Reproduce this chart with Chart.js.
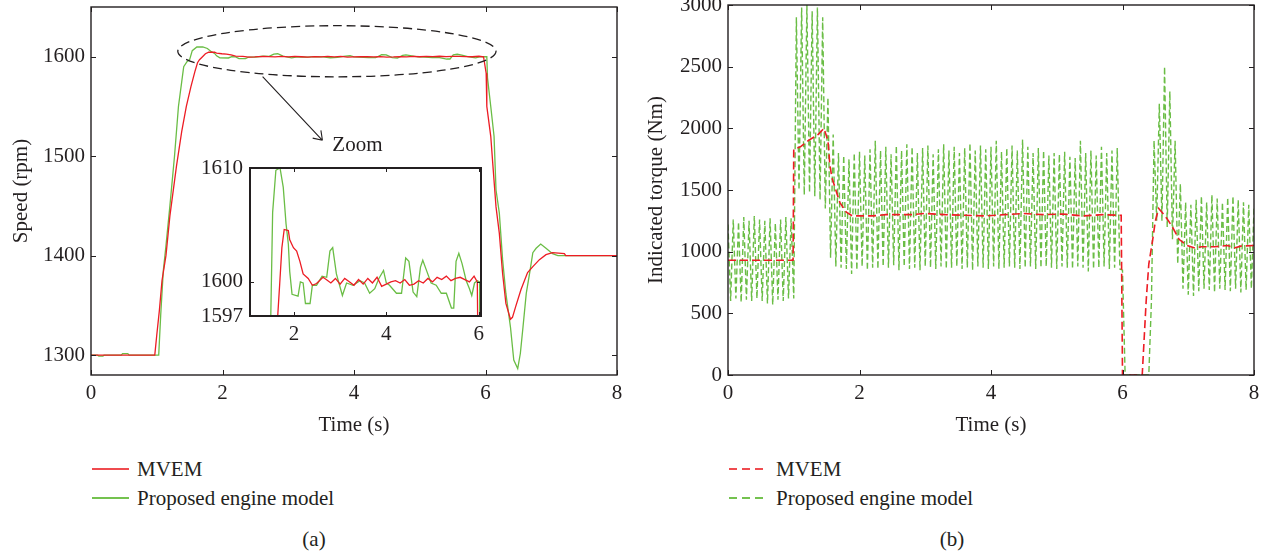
<!DOCTYPE html>
<html>
<head>
<meta charset="utf-8">
<script src="https://cdn.jsdelivr.net/npm/chart.js@4.4.0/dist/chart.umd.min.js"></script>
<style>
html,body{margin:0;padding:0;background:#fff;width:1267px;height:554px;overflow:hidden;}
body{position:relative;font-family:"Liberation Serif","Times New Roman",serif;color:#231f20;}
canvas{position:absolute;}
.lg{position:absolute;font-size:21px;line-height:24px;white-space:nowrap;}
.smp{position:absolute;height:2px;width:37px;}
.cap{position:absolute;font-size:21px;line-height:24px;transform:translateX(-50%);}
</style>
</head>
<body>
<canvas id="cL" width="640" height="440" style="left:0;top:0"></canvas>
<canvas id="cI" width="310" height="190" style="left:190px;top:158px"></canvas>
<canvas id="cR" width="627" height="440" style="left:640px;top:0"></canvas>

<div class="smp" style="left:92px;top:468px;background:#ef4b4f"></div>
<div class="lg" style="left:137px;top:457px">MVEM</div>
<div class="smp" style="left:92px;top:497px;background:#74c24f"></div>
<div class="lg" style="left:137px;top:486px">Proposed engine model</div>
<div class="cap" style="left:314px;top:527px">(a)</div>

<div class="smp" style="left:729px;top:468px;background:repeating-linear-gradient(to right,#ef4b4f 0 8px,transparent 8px 13px)"></div>
<div class="lg" style="left:776px;top:457px">MVEM</div>
<div class="smp" style="left:729px;top:497px;background:repeating-linear-gradient(to right,#74c24f 0 8px,transparent 8px 13px)"></div>
<div class="lg" style="left:776px;top:486px">Proposed engine model</div>
<div class="cap" style="left:952px;top:527px">(b)</div>

<script>
// ---------------- DATA ----------------
const timeTicks = [0, 2, 4, 6, 8];
const speedTicks = [1300, 1400, 1500, 1600];
const insetTimeTicks = [2, 4, 6];
const insetSpeedTicks = [1597, 1600, 1610];
const torqueTicks = [0, 500, 1000, 1500, 2000, 2500, 3000];

// (a) engine speed, MVEM
const mvemSpeedT = [0, 0.97, 1.0, 1.04, 1.08, 1.14, 1.2, 1.3, 1.38, 1.45,
  1.52, 1.58, 1.62, 1.65, 1.70, 1.74, 1.79, 1.88, 1.91, 1.99,
  2.06, 2.13, 2.20, 2.31, 2.40, 2.49, 2.63, 2.7, 2.8, 2.9,
  3.0, 3.1, 3.2, 3.3, 3.4, 3.5, 3.6, 3.7, 3.8, 3.9,
  4.0, 4.1, 4.2, 4.3, 4.4, 4.5, 4.6, 4.7, 4.8, 4.9,
  5.0, 5.1, 5.2, 5.3, 5.4, 5.5, 5.6, 5.7, 5.8, 5.9,
  5.97, 6.01, 6.02, 6.08, 6.11, 6.16, 6.21, 6.26, 6.31, 6.38,
  6.41, 6.46, 6.54, 6.64, 6.72, 6.82, 6.92, 7.02, 7.2, 7.22, 8.0];
const mvemSpeed = [1300, 1300, 1320, 1345, 1375, 1400, 1440, 1490, 1525, 1550,
  1570, 1585, 1594, 1597, 1600.3, 1603, 1604.6, 1604.5, 1603.7, 1603.0,
  1602.7, 1601.8, 1600.7, 1600.3, 1599.7, 1599.85, 1600.4, 1600.2, 1599.9, 1600.3,
  1599.8, 1600.3, 1600.0, 1599.7, 1600.2, 1599.8, 1600.3, 1599.9, 1600.4, 1599.6,
  1599.8, 1600.0, 1600.1, 1599.9, 1600.2, 1599.7, 1599.8, 1600.1, 1599.9, 1600.3,
  1600.0, 1600.4, 1600.2, 1600.5, 1600.1, 1600.3, 1600.4, 1600.2, 1600.0, 1600.5,
  1600, 1583.5, 1550, 1520, 1493, 1449, 1422.6, 1382, 1352, 1336,
  1338, 1349, 1366, 1383, 1389, 1396, 1401, 1403, 1402, 1400, 1400];

// (a) engine speed, proposed engine model
const propSpeedT = [0, 0.1, 0.12, 0.18, 0.2, 0.46, 0.48, 0.56, 0.58, 1.03,
  1.06, 1.1, 1.14, 1.2, 1.27, 1.33, 1.38, 1.41, 1.46, 1.50,
  1.54, 1.61, 1.70, 1.77, 1.83, 1.88, 1.91, 1.96, 2.09, 2.14,
  2.20, 2.25, 2.35, 2.40, 2.49, 2.61, 2.71, 2.78, 2.84, 2.92,
  3.05, 3.14, 3.28, 3.43, 3.53, 3.64, 3.75, 3.84, 3.94, 4.0,
  4.07, 4.22, 4.33, 4.42, 4.49, 4.58, 4.66, 4.74, 4.79, 4.88,
  4.97, 5.08, 5.19, 5.30, 5.41, 5.46, 5.51, 5.57, 5.64, 5.73,
  5.80, 5.85, 5.91, 5.97, 6.02, 6.03, 6.08, 6.13, 6.16, 6.21,
  6.26, 6.31, 6.38, 6.43, 6.49, 6.53, 6.57, 6.62, 6.67, 6.72,
  6.77, 6.84, 6.92, 7.02, 7.1, 8.0];
const propSpeed = [1300, 1300, 1299, 1299, 1300, 1300, 1301.5, 1301.5, 1300, 1300,
  1340, 1385, 1410, 1450, 1500, 1550, 1575, 1590, 1595, 1597,
  1606.1, 1609.8, 1610, 1608.3, 1605.1, 1603.3, 1600.9, 1598.9, 1598.75, 1600,
  1599.9, 1598.1, 1598.1, 1599.7, 1599.7, 1600.5, 1600.4, 1602.7, 1603, 1600.7,
  1598.8, 1599.9, 1599.7, 1600.1, 1599.9, 1599, 1599.4, 1600.3, 1601, 1599.9,
  1599.7, 1599, 1599, 1602.1, 1601.8, 1599.1, 1598.7, 1601.3, 1601.9, 1600.9,
  1599.9, 1599.7, 1599, 1599, 1597.7, 1597.7, 1601.8, 1602.5, 1601.6, 1600.1,
  1599.4, 1598.8, 1599.9, 1600.1, 1600, 1579, 1550, 1520, 1466, 1443,
  1396, 1362, 1328, 1295, 1286.5, 1301.6, 1328, 1362, 1382, 1403,
  1407.4, 1411.7, 1407.4, 1402, 1400, 1400];

// (b) indicated torque, MVEM
const mvemTorqueT = [0, 0.99, 1.0, 1.1, 1.22, 1.37, 1.46, 1.52, 1.55, 1.58,
  1.64, 1.70, 1.80, 1.89, 2.2, 2.4, 2.8, 3.0, 3.3, 3.6,
  3.9, 4.2, 4.5, 4.8, 5.1, 5.4, 5.7, 5.98, 6.0, 6.3,
  6.33, 6.36, 6.40, 6.46, 6.50, 6.55, 6.6, 6.7, 6.78, 6.86,
  6.98, 7.1, 7.2, 7.4, 7.6, 7.7, 7.8, 8.0];
const mvemTorque = [930, 930, 1830, 1850, 1900, 1950, 2000, 1900, 1700, 1600,
  1500, 1400, 1320, 1290, 1290, 1300, 1300, 1310, 1300, 1295,
  1290, 1300, 1310, 1300, 1305, 1290, 1300, 1295, 0, 0,
  300, 600, 900, 1100, 1250, 1350, 1320, 1250, 1180, 1100,
  1050, 1030, 1040, 1040, 1050, 1030, 1045, 1050];

// (b) indicated torque, proposed engine model (sampled every 0.04 s)
const propTorqueStep = 0.04;
const propTorque = [
  1220, 600, 1260, 620, 1240, 590, 1280, 610, 1250, 600,
  1290, 620, 1260, 600, 1250, 580, 1270, 570, 1230, 610,
  1260, 600, 1280, 620, 1270, 620, 2900, 1500, 2980, 1460,
  3000, 1480, 2950, 1450, 2980, 1420, 2900, 1350, 2250, 950,
  1950, 880, 1800, 870, 1780, 860, 1750, 820, 1800, 850,
  1810, 880, 1780, 850, 1830, 870, 1900, 860, 1820, 880,
  1850, 870, 1790, 890, 1860, 850, 1820, 880, 1870, 860,
  1850, 870, 1800, 850, 1840, 880, 1860, 870, 1790, 860,
  1830, 880, 1870, 860, 1820, 870, 1850, 880, 1800, 860,
  1840, 870, 1880, 850, 1820, 880, 1860, 870, 1830, 860,
  1850, 880, 1900, 860, 1810, 870, 1840, 880, 1860, 870,
  1820, 860, 1910, 870, 1850, 880, 1800, 860, 1840, 870,
  1820, 880, 1780, 870, 1800, 860, 1790, 880, 1810, 870,
  1770, 860, 1760, 880, 1900, 870, 1800, 840, 1820, 860,
  1780, 870, 1850, 880, 1800, 860, 1820, 870, 1840, 860,
  850, 0, 0, 0, 0, 0, 0, 0, 0, 0,
  0, 600, 1900, 1250, 2200, 1250, 2500, 1200, 2300, 1100,
  1900, 900, 1550, 700, 1400, 650, 1380, 640, 1420, 680,
  1450, 700, 1400, 690, 1460, 670, 1430, 700, 1400, 690,
  1440, 680, 1450, 700, 1420, 670, 1400, 690, 1380, 700,
  1350];

// annotation of panel (a), in data units
const zoomEllipse = {cx: 3.74, cy: 1605.5, rx: 2.42, ry: 25.7};
const zoomArrow = {x0: 2.61, y0: 1580, x1: 3.52, y1: 1516};
const zoomLabel = {x: 3.67, y: 1511, text: 'Zoom'};

// ---------------- STYLE ----------------
const INK = '#231f20';
const RED = '#ed1c24';
const GREEN = '#6abd45';
const FAMILY = "'Liberation Serif', 'Times New Roman', serif";
const FONT = {family: FAMILY, size: 21};

const pairs = (xs, ys) => xs.map((x, i) => ({x: x, y: ys[i]}));
const stepPairs = (step, ys) => ys.map((y, i) => ({x: +(i * step).toFixed(4), y: y}));

function frameTicks(width, tickLen) {
  return {
    id: 'frameTicks',
    afterDatasetsDraw(chart) {
      const {ctx, chartArea: a, scales: {x, y}} = chart;
      ctx.save();
      ctx.strokeStyle = INK;
      ctx.lineWidth = width;
      ctx.setLineDash([]);
      ctx.strokeRect(a.left, a.top, a.right - a.left, a.bottom - a.top);
      ctx.lineWidth = 1;
      ctx.beginPath();
      x.ticks.forEach(t => {
        const p = Math.round(x.getPixelForValue(t.value)) + 0.5;
        ctx.moveTo(p, a.bottom); ctx.lineTo(p, a.bottom - tickLen);
        ctx.moveTo(p, a.top); ctx.lineTo(p, a.top + tickLen);
      });
      y.ticks.forEach(t => {
        const p = Math.round(y.getPixelForValue(t.value)) + 0.5;
        ctx.moveTo(a.left, p); ctx.lineTo(a.left + tickLen, p);
        ctx.moveTo(a.right, p); ctx.lineTo(a.right - tickLen, p);
      });
      ctx.stroke();
      ctx.restore();
    }
  };
}

const zoomNote = {
  id: 'zoomNote',
  afterDatasetsDraw(chart) {
    const {ctx, scales: {x, y}} = chart;
    const cx = x.getPixelForValue(zoomEllipse.cx), cy = y.getPixelForValue(zoomEllipse.cy);
    const rx = x.getPixelForValue(zoomEllipse.cx + zoomEllipse.rx) - cx;
    const ry = cy - y.getPixelForValue(zoomEllipse.cy + zoomEllipse.ry);
    ctx.save();
    ctx.strokeStyle = INK;
    ctx.lineWidth = 1.3;
    ctx.setLineDash([9, 5]);
    ctx.beginPath();
    ctx.ellipse(cx, cy, rx, ry, 0, 0, Math.PI * 2);
    ctx.stroke();
    ctx.setLineDash([]);
    const ax0 = x.getPixelForValue(zoomArrow.x0), ay0 = y.getPixelForValue(zoomArrow.y0);
    const ax1 = x.getPixelForValue(zoomArrow.x1), ay1 = y.getPixelForValue(zoomArrow.y1);
    ctx.lineWidth = 1.1;
    ctx.beginPath();
    ctx.moveTo(ax0, ay0); ctx.lineTo(ax1, ay1);
    const ang = Math.atan2(ay1 - ay0, ax1 - ax0);
    const hl = 10;
    ctx.moveTo(ax1, ay1); ctx.lineTo(ax1 - hl * Math.cos(ang - 0.6), ay1 - hl * Math.sin(ang - 0.6));
    ctx.moveTo(ax1, ay1); ctx.lineTo(ax1 - hl * Math.cos(ang + 0.6), ay1 - hl * Math.sin(ang + 0.6));
    ctx.stroke();
    ctx.fillStyle = INK;
    ctx.font = '21px ' + FAMILY;
    ctx.textAlign = 'left';
    ctx.textBaseline = 'middle';
    ctx.fillText(zoomLabel.text, x.getPixelForValue(zoomLabel.x), y.getPixelForValue(zoomLabel.y));
    ctx.restore();
  }
};

function xAxis(min, max, ticks, title, height, pad) {
  return {
    type: 'linear', min: min, max: max,
    afterBuildTicks: s => { s.ticks = ticks.map(v => ({value: v})); },
    ticks: {font: FONT, color: INK, padding: pad, autoSkip: false, maxRotation: 0, callback: v => String(v)},
    grid: {display: false, drawTicks: false},
    border: {display: false},
    title: title ? {display: true, text: title, font: FONT, color: INK, padding: {top: 0, bottom: 0}} : {display: false},
    afterFit: s => { s.height = height; s.paddingLeft = 0; s.paddingRight = 0; }
  };
}
function yAxis(min, max, ticks, title, width, pad, titlePad) {
  return {
    type: 'linear', min: min, max: max,
    afterBuildTicks: s => { s.ticks = ticks.map(v => ({value: v})); },
    ticks: {font: FONT, color: INK, padding: pad, autoSkip: false, callback: v => String(v)},
    grid: {display: false, drawTicks: false},
    border: {display: false},
    title: title ? {display: true, text: title, font: FONT, color: INK, padding: {top: titlePad, bottom: 0}} : {display: false},
    afterFit: s => { s.width = width; s.paddingTop = 0; s.paddingBottom = 0; }
  };
}
function baseOptions(padding, scales) {
  return {
    responsive: false, animation: false, devicePixelRatio: 1,
    layout: {padding: padding},
    elements: {point: {radius: 0}, line: {tension: 0}},
    plugins: {legend: {display: false}, tooltip: {enabled: false}},
    scales: scales
  };
}

function build() {
  Chart.defaults.font.family = FAMILY;
  new Chart(document.getElementById('cL'), {
    type: 'line',
    data: {datasets: [
      {label: 'MVEM', data: pairs(mvemSpeedT, mvemSpeed), borderColor: RED, borderWidth: 1.3},
      {label: 'Proposed engine model', data: pairs(propSpeedT, propSpeed), borderColor: GREEN, borderWidth: 1.3}
    ]},
    options: baseOptions({left: 0, top: 7, right: 23, bottom: 2}, {
      x: xAxis(0, 8, timeTicks, 'Time (s)', 63, 6),
      y: yAxis(1280, 1650, speedTicks, 'Speed (rpm)', 91, 6, 9)
    }),
    plugins: [frameTicks(1.4, 5), zoomNote]
  });

  new Chart(document.getElementById('cI'), {
    type: 'line',
    data: {datasets: [
      {label: 'MVEM', data: pairs(mvemSpeedT, mvemSpeed), borderColor: RED, borderWidth: 1.3},
      {label: 'Proposed engine model', data: pairs(propSpeedT, propSpeed), borderColor: GREEN, borderWidth: 1.3}
    ]},
    options: baseOptions({left: 0, top: 10, right: 19, bottom: 0}, {
      x: xAxis(1.05, 6.05, insetTimeTicks, null, 32, 6),
      y: yAxis(1597, 1610, insetSpeedTicks, null, 60, 7, 0)
    }),
    plugins: [frameTicks(2, 4)]
  });

  new Chart(document.getElementById('cR'), {
    type: 'line',
    data: {datasets: [
      {label: 'MVEM', data: pairs(mvemTorqueT, mvemTorque), borderColor: RED, borderWidth: 1.6, borderDash: [8, 4]},
      {label: 'Proposed engine model', data: stepPairs(propTorqueStep, propTorque), borderColor: GREEN, borderWidth: 1.4, borderDash: [6, 3]}
    ]},
    options: baseOptions({left: 0, top: 5, right: 13, bottom: 2}, {
      x: xAxis(0, 8, timeTicks, 'Time (s)', 63, 6),
      y: yAxis(0, 3000, torqueTicks, 'Indicated torque (Nm)', 88, 6, 4)
    }),
    plugins: [frameTicks(1.4, 5)]
  });
}

const fontReady = (document.fonts && document.fonts.load)
  ? Promise.all([document.fonts.load("21px 'Liberation Serif'"), document.fonts.ready]).catch(() => null)
  : Promise.resolve();
fontReady.then(build, build);
</script>
</body>
</html>
